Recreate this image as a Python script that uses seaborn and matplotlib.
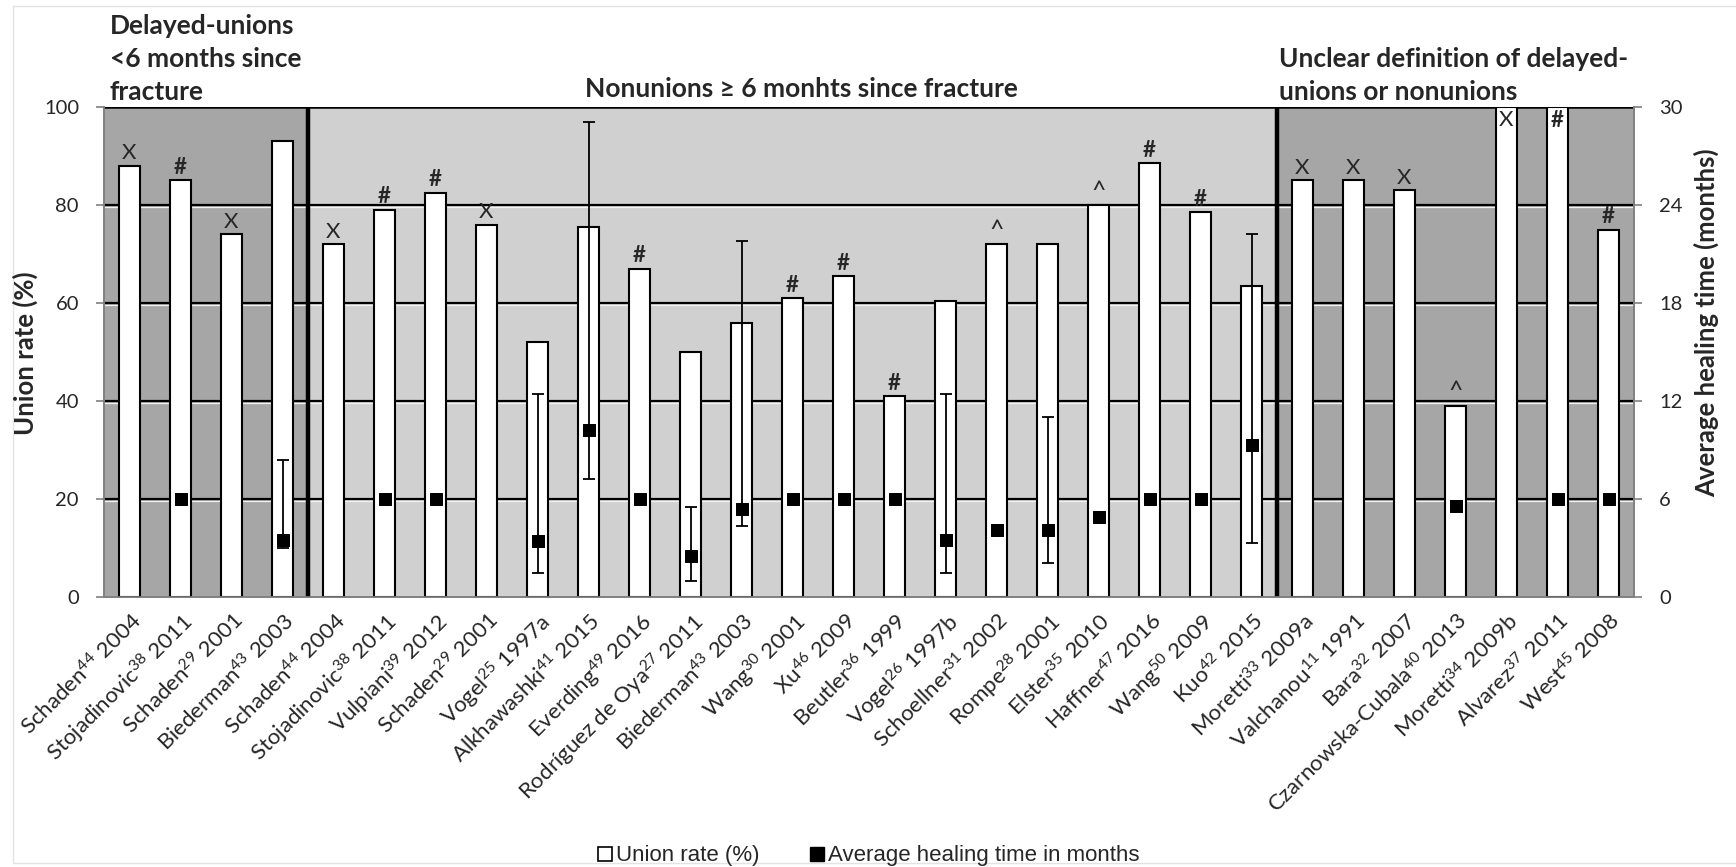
import numpy as np
import pandas as pd
import matplotlib
matplotlib.use("Agg")
import matplotlib.pyplot as plt
import seaborn as sns
from matplotlib.lines import Line2D

# ---- data -------------------------------------------------------------
authors = ["Schaden", "Stojadinovic", "Schaden", "Biederman",
           "Schaden", "Stojadinovic", "Vulpiani", "Schaden", "Vogel",
           "Alkhawashki", "Everding", "Rodríguez de Oya", "Biederman", "Wang",
           "Xu", "Beutler", "Vogel", "Schoellner", "Rompe", "Elster",
           "Haffner", "Wang", "Kuo",
           "Moretti", "Valchanou", "Bara", "Czarnowska-Cubala", "Moretti",
           "Alvarez", "West"]
refs = ["44", "38", "29", "43",
        "44", "38", "39", "29", "25", "41", "49", "27", "43", "30", "46",
        "36", "26", "31", "28", "35", "47", "50", "42",
        "33", "11", "32", "40", "34", "37", "45"]
years = ["2004", "2011", "2001", "2003",
         "2004", "2011", "2012", "2001", "1997a", "2015", "2016", "2011",
         "2003", "2001", "2009", "1999", "1997b", "2002", "2001", "2010",
         "2016", "2009", "2015",
         "2009a", "1991", "2007", "2013", "2009b", "2011", "2008"]
section = [1] * 4 + [2] * 19 + [3] * 7

union_rate = [88, 85, 74, 93,
              72, 79, 82.5, 76, 52, 75.5, 67, 50, 56, 61, 65.5, 41, 60.5,
              72, 72, 80, 88.5, 78.5, 63.5,
              85, 85, 83, 39, 100, 100, 75]
flags = ["X", "#", "X", "",
         "X", "#", "#", "X", "", "", "#", "", "", "#", "#", "#", "", "^",
         "", "^", "#", "#", "",
         "X", "X", "X", "^", "X", "#", "#"]

nan = np.nan
healing = [nan, 6, nan, 3.5,
           nan, 6, 6, nan, 3.4, 10.2, 6, 2.5, 5.4, 6, 6, 6, 3.5, 4.1, 4.1,
           4.9, 6, 6, 9.3,
           nan, nan, nan, 5.6, nan, 6, 6]
healing_low = [nan, nan, nan, 3.0,
               nan, nan, nan, nan, 1.5, 7.2, nan, 1.0, 4.35, nan, nan, nan,
               1.45, nan, 2.1, nan, nan, nan, 3.3,
               nan, nan, nan, nan, nan, nan, nan]
healing_high = [nan, nan, nan, 8.4,
                nan, nan, nan, nan, 12.4, 29.1, nan, 5.5, 21.8, nan, nan,
                nan, 12.4, nan, 11.0, nan, nan, nan, 22.2,
                nan, nan, nan, nan, nan, nan, nan]

section_titles = {1: "Delayed-unions\n<6 months since\nfracture",
                  2: "Nonunions \u2265 6 monhts since fracture",
                  3: "Unclear definition of delayed-\nunions or nonunions"}
section_colors = {1: "#a6a6a6", 2: "#d0d0d0", 3: "#a6a6a6"}

# ---- style ------------------------------------------------------------
sns.set_theme(style="white")
plt.rcParams["font.family"] = ["Lato", "DejaVu Sans"]
plt.rcParams["mathtext.default"] = "regular"
plt.rcParams["axes.unicode_minus"] = False

W, H = 1736, 867
fig = plt.figure(figsize=(W / 100, H / 100), dpi=100)
L, R, T, B = 104, 1634, 107, 597
ax = fig.add_axes([L / W, 1 - B / H, (R - L) / W, (B - T) / H])
ax.set_facecolor("none")


def fx(px):
    return px / W


def fy(py):
    return 1 - py / H


n = len(authors)
pos = np.arange(n)
labels = [f"{a}$^{{{r}}}$ {y}" for a, r, y in zip(authors, refs, years)]

df = pd.DataFrame({"pos": pos, "union": union_rate, "heal": healing,
                   "lo": healing_low, "hi": healing_high})

# section shading and separators
sec = np.array(section)
for s in (1, 2, 3):
    idx = np.where(sec == s)[0]
    ax.axvspan(idx.min() - 0.5, idx.max() + 0.5, color=section_colors[s],
               zorder=0, lw=0)
for b in np.where(np.diff(sec) != 0)[0]:
    ax.axvline(b + 0.5, color="black", lw=3.2, zorder=4)

# gridlines with a light edge underneath
for g in (20, 40, 60, 80):
    ax.axhline(g, color="black", lw=1.6, zorder=1)
    ax.axhline(g - 0.45, color="#f2f2f2", lw=0.9, zorder=1)
ax.axhline(100, color="black", lw=1.8, zorder=1)

sns.barplot(data=df, x="pos", y="union", color="white", saturation=1,
            edgecolor="black", linewidth=1.5, width=0.4, ax=ax, zorder=3)

for i, (v, f) in enumerate(zip(union_rate, flags)):
    if not f:
        continue
    size = 18 if f == "^" else 16
    weight = "bold" if f == "#" else "normal"
    if v >= 99:
        ax.text(i, 99.3, f, ha="center", va="top", fontsize=size,
                fontweight=weight, zorder=5)
    else:
        ax.text(i, v + 0.5, f, ha="center", va="bottom", fontsize=size,
                fontweight=weight, zorder=5)

ax.set_xlim(-0.5, n - 0.5)
ax.set_ylim(0, 100)
ax.set_yticks(range(0, 101, 20))
ax.set_xticks(pos)
ax.set_xticklabels(labels, rotation=45, ha="right", rotation_mode="anchor",
                   fontsize=16)
ax.set_xticks(np.arange(-0.5, n, 1), minor=True)
ax.tick_params(axis="x", which="major", length=0, pad=9)
ax.tick_params(axis="x", which="minor", length=6, color="#808080",
               width=1.2, direction="out")
ax.tick_params(axis="y", length=6, color="#808080", width=1.2,
               direction="out", labelsize=14.5, left=True, pad=12)
ax.set_xlabel("")
ax.set_ylabel("")
for s in ("left", "bottom", "right"):
    ax.spines[s].set_color("#808080")
    ax.spines[s].set_linewidth(1.2)
ax.spines["top"].set_visible(False)

# secondary axis: healing time
ax2 = ax.twinx()
ax2.set_facecolor("none")
err = df.dropna(subset=["lo"])
ax2.errorbar(err["pos"], err["heal"],
             yerr=[err["heal"] - err["lo"], err["hi"] - err["heal"]],
             fmt="none", ecolor="black", elinewidth=1.3, capsize=4,
             capthick=1.3, zorder=5)
pts = df.dropna(subset=["heal"])
sns.scatterplot(data=pts, x="pos", y="heal", marker="s", color="black",
                edgecolor="black", s=80, ax=ax2, zorder=6, legend=False)
ax2.set_xlim(-0.5, n - 0.5)
ax2.set_ylim(0, 30)
ax2.set_yticks(range(0, 31, 6))
ax2.tick_params(axis="y", length=6, color="#808080", width=1.2,
                direction="out", labelsize=14.5, right=True, pad=12)
ax2.set_xlabel("")
ax2.set_ylabel("")
for s in ("left", "bottom", "right"):
    ax2.spines[s].set_color("#808080")
    ax2.spines[s].set_linewidth(1.2)
ax2.spines["top"].set_visible(False)
ax2.grid(False)
ax.grid(False)

# axis titles
fig.text(fx(25), fy(353), "Union rate (%)", rotation=90, ha="center",
         va="center", fontsize=18.5, fontweight="bold")
fig.text(fx(1706), fy(323), "Average healing time (months)", rotation=90,
         ha="center", va="center", fontsize=18.5, fontweight="bold")

# section headings
fig.text(fx(110), fy(104), section_titles[1], ha="left", va="bottom",
         fontsize=19, fontweight="bold", linespacing=1.45)
fig.text(fx(801), fy(89), section_titles[2], ha="center", va="center",
         fontsize=19, fontweight="bold")
fig.text(fx(1279), fy(104), section_titles[3], ha="left", va="bottom",
         fontsize=19, fontweight="bold", linespacing=1.45)

# legend
handles = [Line2D([], [], marker="s", ls="none", markerfacecolor="white",
                  markeredgecolor="black", markersize=10, mew=1.2),
           Line2D([], [], marker="s", ls="none", markerfacecolor="black",
                  markeredgecolor="black", markersize=10)]
fig.legend(handles, ["Union rate (%)", "Average healing time in months"],
           loc="center", bbox_to_anchor=(0.5, fy(856)), ncol=2,
           frameon=False, handletextpad=0.1, columnspacing=2.2,
           handlelength=0.8, borderpad=0,
           prop={"family": "Liberation Sans", "size": 16})

# chart area border
for xs, ys in (([13, 13], [6, 863]), ([13, W], [6, 6]), ([13, W], [863, 863])):
    fig.add_artist(Line2D([fx(x) for x in xs], [fy(y) for y in ys],
                          color="#e3e3e3", lw=1.0))

fig.savefig("out.png", dpi=100)
